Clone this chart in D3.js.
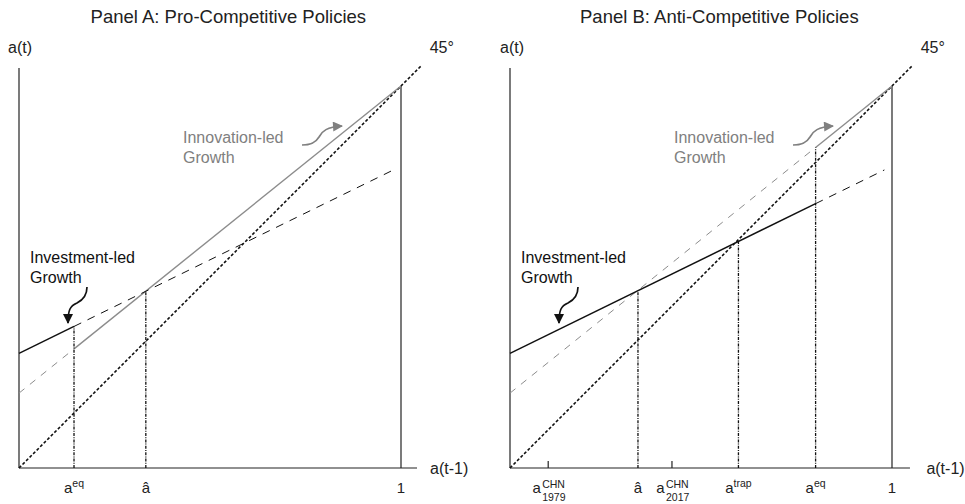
<!DOCTYPE html>
<html>
<head>
<meta charset="utf-8">
<script src="https://cdn.jsdelivr.net/npm/d3@7"></script>
<style>
  body { margin: 0; background: #fff; }
  svg { font-family: "Liberation Sans", Arial, sans-serif; }
</style>
</head>
<body>
<div id="chart"></div>
<script>
// ---- values (a = productivity, 0..1) ----
var panelTitles = ["Panel A: Pro-Competitive Policies", "Panel B: Anti-Competitive Policies"];
// investment-led line: a(t) = intercept + slope * a(t-1)
var investLine = [0.30, 0.49];
// innovation-led line: a(t) = intercept + slope * a(t-1)
var innovLine = [0.196, 0.804];
var aEq = [0.144, 0.80];
var aHat = [0.332, 0.335];
var aTrap = 0.598;
var chnTicks = [
  { x: 0.10, sub: "1979" },
  { x: 0.424, sub: "2017" }
];

(function () {
  var width = 965, height = 504;
  var plotSize = 382;
  var panelX = [19, 510];

  var svg = d3.select("#chart")
    .append("svg")
    .attr("width", width)
    .attr("height", height);

  var defs = svg.append("defs");
  [["head-black", "#111"], ["head-grey", "#808080"]].forEach(function (m) {
    defs.append("marker")
      .attr("id", m[0])
      .attr("viewBox", "0 0 10 10")
      .attr("refX", 9).attr("refY", 5)
      .attr("markerWidth", 11).attr("markerHeight", 10)
      .attr("markerUnits", "userSpaceOnUse")
      .attr("orient", "auto")
      .append("path")
      .attr("d", "M0,0 L10,5 L0,10 Z")
      .attr("fill", m[1]);
  });

  var x = d3.scaleLinear().domain([0, 1]).range([0, plotSize]);
  var y = d3.scaleLinear().domain([0, 1]).range([468, 468 - plotSize]);

  function inv(a) { return investLine[0] + investLine[1] * a; }
  function innov(a) { return innovLine[0] + innovLine[1] * a; }

  var line = d3.line()
    .x(function (d) { return x(d[0]); })
    .y(function (d) { return y(d[1]); });

  function seg(g, pts, color, w, dash) {
    g.append("path")
      .attr("d", line(pts))
      .attr("fill", "none")
      .attr("stroke", color)
      .attr("stroke-width", w)
      .attr("stroke-dasharray", dash || null);
  }

  function vdot(g, a, top) {
    seg(g, [[a, 0], [a, top]], "#111", 1.3, "3,1.2,1,1.2");
  }

  function label(g, px, py, lines, color) {
    lines.forEach(function (t, i) {
      g.append("text")
        .attr("x", px).attr("y", py + i * 20)
        .attr("font-size", 16)
        .attr("fill", color)
        .text(t);
    });
  }

  function curlyArrow(g, d, color, marker) {
    g.append("path")
      .attr("d", d)
      .attr("fill", "none")
      .attr("stroke", color)
      .attr("stroke-width", 1.7)
      .attr("marker-end", "url(#" + marker + ")");
  }

  function txt(g, px, py, size, s, anchor) {
    return g.append("text").attr("x", px).attr("y", py)
      .attr("text-anchor", anchor || "start")
      .attr("font-size", size).attr("fill", "#222").text(s);
  }

  panelX.forEach(function (px, p) {
    var g = svg.append("g").attr("transform", "translate(" + px + ",0)");

    // title
    txt(g, x(0.548), 23, 18.5, panelTitles[p], "middle");

    // axes
    seg(g, [[0, 0], [0, 1.047]], "#222", 1.2);
    seg(g, [[0, 0], [p === 0 ? 1.042 : 1.047, 0]], "#222", 1.2);
    seg(g, [[1, 0], [1, 1]], "#222", 1.2);

    txt(g, p === 0 ? -11 : -10, 53, 16, "a(t)");
    txt(g, x(1.075), 53, 16, "45°");
    txt(g, x(p === 0 ? 1.076 : 1.09), 474, 16, "a(t-1)");

    // 45 degree line
    seg(g, [[0, 0], [1.052, 1.052]], "#111", 1.6, "3,2");

    var eq = aEq[p];

    // innovation-led line (grey): dashed left of a_eq, solid right of it
    seg(g, [[0, innov(0)], [eq, innov(eq)]], "#8c8c8c", 1, "7,7");
    seg(g, [[eq, innov(eq)], [1, innov(1)]], "#8c8c8c", 1.4);

    // investment-led line (black): solid left of a_eq, dashed right of it
    seg(g, [[0, inv(0)], [eq, inv(eq)]], "#111", 1.5);
    seg(g, [[eq, inv(eq)], [0.98, inv(0.98)]], "#111", 1, "8,7");

    // vertical guides
    vdot(g, aHat[p], inv(aHat[p]));
    if (p === 0) {
      vdot(g, eq, inv(eq));
    } else {
      vdot(g, aTrap, inv(aTrap));
      vdot(g, eq, innov(eq));
    }

    // tick labels
    var ty = 493;
    function supLabel(a, sup) {
      var t = txt(g, x(a), ty, 15, "", "middle");
      t.append("tspan").text("a");
      t.append("tspan").attr("font-size", 10.5).attr("dy", -6).text(sup);
    }
    supLabel(eq, "eq");
    txt(g, x(aHat[p]), ty, 15, "â", "middle");
    txt(g, x(1), ty, 15, "1", "middle");

    label(g, 11, 263, ["Investment-led", "Growth"], "#111");
    label(g, 164, 143, ["Innovation-led", "Growth"], "#808080");
    curlyArrow(g, "M68,287 C68,296 64,300 58,303 C51,306 49,310 49,323", "#111", "head-black");
    curlyArrow(g, "M283,145 C293,145 297,142 300,137 C303,131 308,127 323,126", "#808080", "head-grey");

    if (p === 1) {
      supLabel(aTrap, "trap");

      chnTicks.forEach(function (d) {
        seg(g, [[d.x, 0], [d.x, 7 / plotSize]], "#222", 1.2);
        var cx = x(d.x);
        txt(g, cx - 11.5, ty, 15, "a", "middle");
        txt(g, cx - 6, 488, 10.5, "CHN");
        txt(g, cx - 6, 501, 10.5, d.sub);
      });
    }
  });
})();
</script>
</body>
</html>
